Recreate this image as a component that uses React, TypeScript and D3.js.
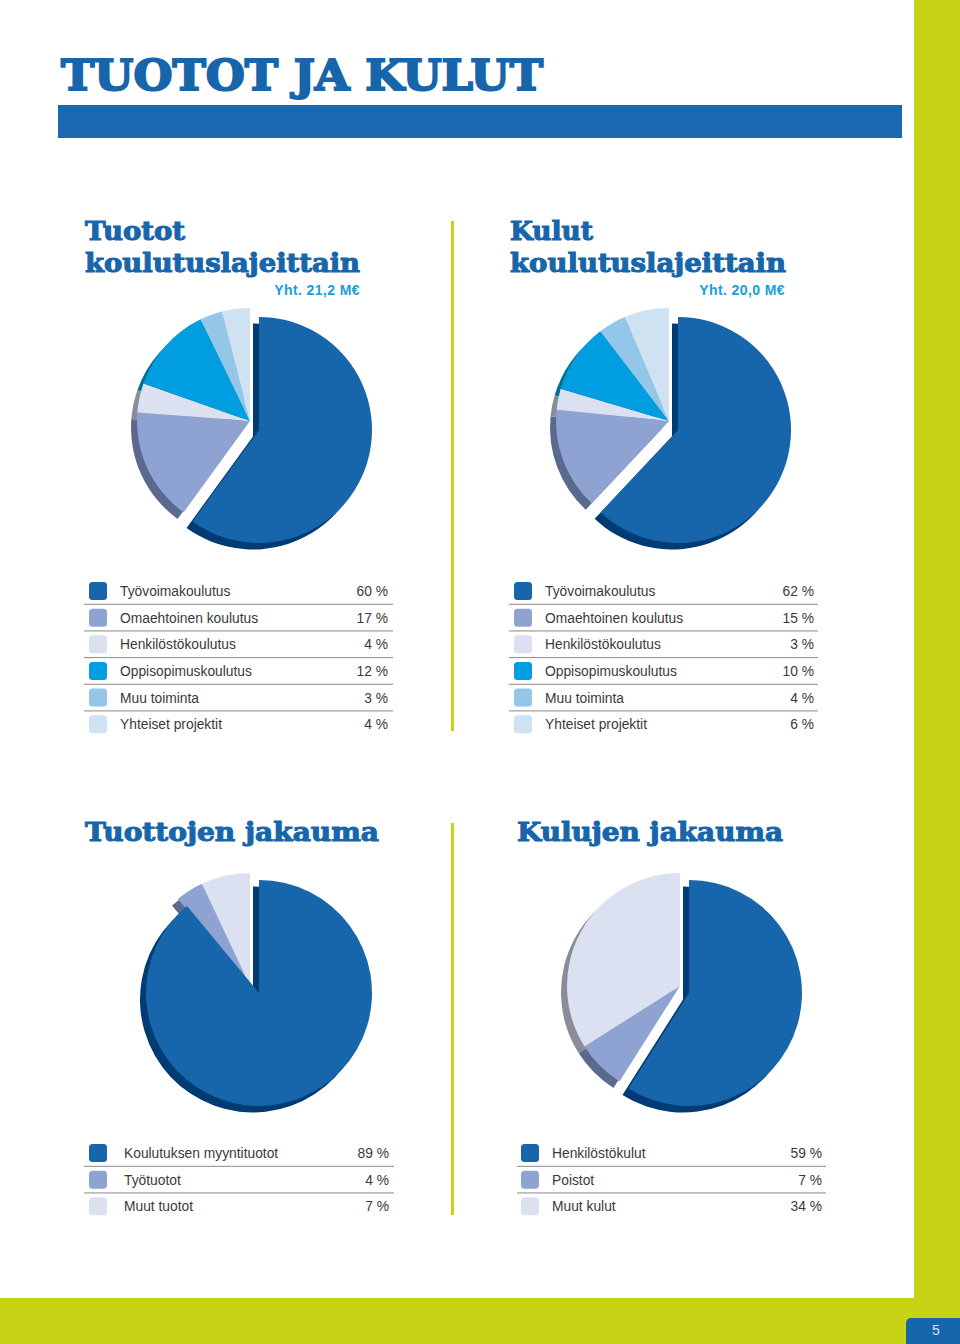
import React from 'react';
import * as d3 from 'd3';

const blue = '#1766ab';
const lime = '#c8d317';

const tuototLabels = ['Työvoimakoulutus', 'Omaehtoinen koulutus', 'Henkilöstökoulutus', 'Oppisopimuskoulutus', 'Muu toiminta', 'Yhteiset projektit'];
const tuototValues = [60, 17, 4, 12, 3, 4];
const kulutValues = [62, 15, 3, 10, 4, 6];
// slice sizes as drawn, measured off the pies (the printed labels are rounded)
const tuototShares = [60, 16.2, 4.2, 12.4, 3.2, 4];
const kulutShares = [62, 14.6, 3, 10, 4, 6.4];
const tuottoLabels = ['Koulutuksen myyntituotot', 'Työtuotot', 'Muut tuotot'];
const tuottoValues = [89, 4, 7];
const kuluLabels = ['Henkilöstökulut', 'Poistot', 'Muut kulut'];
const kuluValues = [59, 7, 34];

const colors = ['#1766ab', '#8ea3d1', '#dce1f1', '#009ee0', '#93c6e8', '#cfe2f2'];
const shadows = ['#003b73', '#5a6a8e', '#8a8c9c', '#00708f', '#6c93ad', '#93a5b5'];

// pie and legend placement for each block
const blocks = [
  { labels: tuototLabels, values: tuototValues, shares: tuototShares, cx: 259, cy: 430, ox: -9, oy: -9, r: 113, lx: 84, lw: 309, sx: 89, tx: 120, pr: 388, ly: 591 },
  { labels: tuototLabels, values: kulutValues, shares: kulutShares, cx: 678, cy: 430, ox: -9, oy: -9, r: 113, lx: 509, lw: 309, sx: 514, tx: 545, pr: 814, ly: 591 },
  { labels: tuottoLabels, values: tuottoValues, shares: tuottoValues, cx: 259, cy: 993, ox: -9, oy: -7, r: 113, lx: 84, lw: 310, sx: 89, tx: 124, pr: 389, ly: 1153 },
  { labels: kuluLabels, values: kuluValues, shares: kuluValues, cx: 689, cy: 993, ox: -9, oy: -7, r: 113, lx: 517, lw: 309, sx: 521, tx: 552, pr: 822, ly: 1153 },
];

const headingFont = '"DejaVu Serif", serif';
const bodyFont = '"Liberation Sans", sans-serif';

function Heading({ x, y, w, children }: any) {
  return (
    <text x={x} y={y} fontFamily={headingFont} fontWeight={700} fontSize={26} fill={blue}
      stroke={blue} strokeWidth={1.1} textLength={w} lengthAdjust="spacingAndGlyphs">{children}</text>
  );
}

function Pie({ shares, cx, cy, ox, oy, r }: any) {
  const slices = d3.pie<number>().sort(null)(shares);
  const arc = d3.arc<d3.PieArcDatum<number>>().innerRadius(0).outerRadius(r);
  const sx = 6;
  const sy = 6.5;
  return (
    <g>
      {slices.slice(1).map((s, i) => (
        <path key={i} d={arc(s) as string} fill={shadows[i + 1]} transform={`translate(${cx + ox - sx},${cy + oy + sy})`} />
      ))}
      <path d={arc(slices[0]) as string} fill={shadows[0]} transform={`translate(${cx - sx},${cy + sy})`} />
      {slices.slice(1).map((s, i) => (
        <path key={i} d={arc(s) as string} fill={colors[i + 1]} transform={`translate(${cx + ox},${cy + oy})`} />
      ))}
      <path d={arc(slices[0]) as string} fill={colors[0]} transform={`translate(${cx},${cy})`} />
    </g>
  );
}

function Legend({ labels, values, lx, lw, sx, tx, pr, ly }: any) {
  const y = d3.scaleLinear().domain([0, 1]).range([ly, ly + 26.65]);
  return (
    <g fontFamily={bodyFont} fontSize={13.8} fill="#3a3a3a">
      {labels.map((label: string, i: number) => (
        <g key={label}>
          <rect x={sx} y={y(i) - 9} width={18} height={18} rx={3.5} fill={colors[i]} />
          <text x={tx} y={y(i) + 5}>{label}</text>
          <text x={pr} y={y(i) + 5} textAnchor="end">{values[i]} %</text>
          {i < labels.length - 1 && (
            <line x1={lx} x2={lx + lw} y1={y(i) + 13.3} y2={y(i) + 13.3} stroke="#8a8a8a" strokeWidth={1} />
          )}
        </g>
      ))}
    </g>
  );
}

export default function App() {
  return (
    <svg width={960} height={1344} style={{ position: 'absolute', left: 0, top: 0, display: 'block' }}>
      <rect width={960} height={1344} fill="#fff" />
      <rect x={914} width={46} height={1344} fill={lime} />
      <rect y={1298} width={960} height={46} fill={lime} />
      <path d="M906 1344V1323a5 5 0 0 1 5-5H960V1344Z" fill={blue} />
      <text x={936} y={1335} textAnchor="middle" fontFamily={bodyFont} fontSize={14} fill="#cfe2f2">5</text>

      <text x={61} y={90} fontFamily={headingFont} fontWeight={700} fontSize={43} fill={blue}
        stroke={blue} strokeWidth={2} textLength={482} lengthAdjust="spacingAndGlyphs">TUOTOT JA KULUT</text>
      <rect x={58} y={105} width={844} height={33} fill="#1a68b0" />

      <Heading x={85} y={240} w={100}>Tuotot</Heading>
      <Heading x={85} y={272} w={275}>koulutuslajeittain</Heading>
      <Heading x={510} y={240} w={83}>Kulut</Heading>
      <Heading x={510} y={272} w={276}>koulutuslajeittain</Heading>
      <Heading x={85} y={841} w={294}>Tuottojen jakauma</Heading>
      <Heading x={517} y={841} w={266}>Kulujen jakauma</Heading>

      <g fontFamily={bodyFont} fontWeight={700} fontSize={14} letterSpacing={0.4} fill="#1b9dd9" textAnchor="end">
        <text x={360} y={295}>Yht. 21,2 M€</text>
        <text x={785} y={295}>Yht. 20,0 M€</text>
      </g>

      <rect x={451} y={221} width={3} height={510} fill={lime} />
      <rect x={451} y={823} width={3} height={392} fill={lime} />

      {blocks.map((b, i) => (
        <g key={i}>
          <Pie {...b} />
          <Legend {...b} />
        </g>
      ))}
    </svg>
  );
}
